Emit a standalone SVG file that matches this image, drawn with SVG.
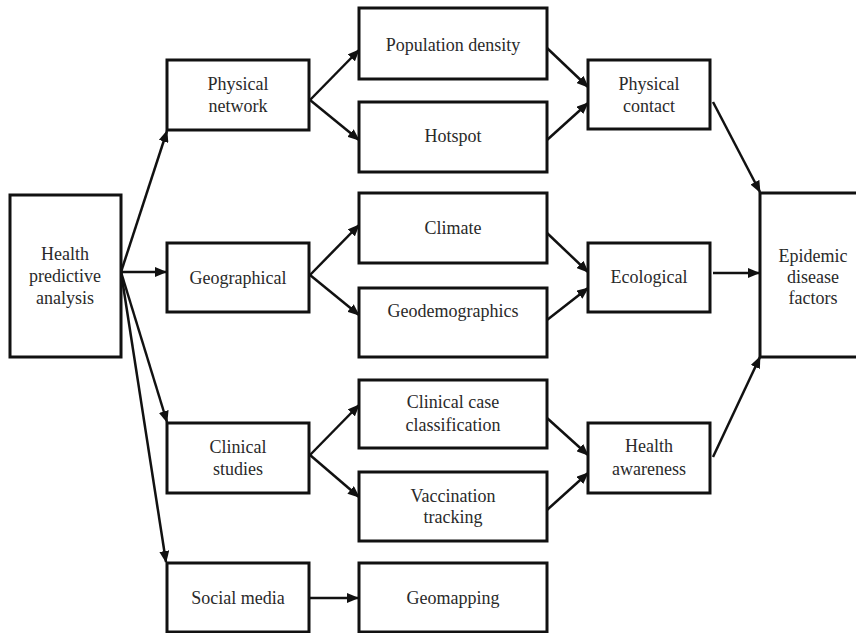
<svg xmlns="http://www.w3.org/2000/svg" width="856" height="633" viewBox="0 0 856 633">
<style>
.box{fill:#fff;stroke:#111;stroke-width:3}
.t{font-family:"Liberation Serif","Times New Roman",serif;font-size:18px;fill:#2a2a2a;text-anchor:middle}
.c{stroke:#111;stroke-width:2.5;fill:none;marker-end:url(#ah)}
</style>
<defs>
<marker id="ah" markerUnits="userSpaceOnUse" markerWidth="12" markerHeight="10" refX="11" refY="5" orient="auto">
<path d="M0,0 L12,5 L0,10 Z" fill="#111"/>
</marker>
</defs>
<rect width="856" height="633" fill="#fff"/>
<g id="connectors">
<line class="c" x1="121" y1="272" x2="167" y2="131"/>
<line class="c" x1="121" y1="272" x2="166" y2="272"/>
<line class="c" x1="121" y1="272" x2="167" y2="422"/>
<line class="c" x1="121" y1="272" x2="166" y2="562"/>
<line class="c" x1="310" y1="100" x2="359" y2="50"/>
<line class="c" x1="310" y1="100" x2="359" y2="140"/>
<line class="c" x1="310" y1="275" x2="359" y2="225"/>
<line class="c" x1="310" y1="275" x2="359" y2="315"/>
<line class="c" x1="310" y1="455" x2="359" y2="405"/>
<line class="c" x1="310" y1="455" x2="359" y2="497"/>
<line class="c" x1="310" y1="598" x2="358" y2="598"/>
<line class="c" x1="547" y1="48" x2="588" y2="87"/>
<line class="c" x1="547" y1="140" x2="588" y2="103"/>
<line class="c" x1="547" y1="233" x2="588" y2="272"/>
<line class="c" x1="547" y1="320" x2="588" y2="288"/>
<line class="c" x1="547" y1="418" x2="588" y2="455"/>
<line class="c" x1="547" y1="510" x2="588" y2="473"/>
<line class="c" x1="713" y1="102" x2="760" y2="192"/>
<line class="c" x1="713" y1="273" x2="759" y2="273"/>
<line class="c" x1="713" y1="457" x2="760" y2="357"/>
</g>
<g id="hpa"><rect class="box" x="10" y="195" width="111" height="162"/>
<text class="t" x="65" y="260">Health</text><text class="t" x="65" y="282">predictive</text><text class="t" x="65" y="304">analysis</text></g>
<g id="physical-network"><rect class="box" x="167" y="60" width="142" height="70"/>
<text class="t" x="238" y="90">Physical</text><text class="t" x="238" y="112">network</text></g>
<g id="geographical"><rect class="box" x="167" y="243" width="142" height="69"/>
<text class="t" x="238" y="284">Geographical</text></g>
<g id="clinical-studies"><rect class="box" x="167" y="423" width="142" height="70"/>
<text class="t" x="238" y="453">Clinical</text><text class="t" x="238" y="475">studies</text></g>
<g id="social-media"><rect class="box" x="167" y="563" width="142" height="69"/>
<text class="t" x="238" y="604">Social media</text></g>
<g id="population-density"><rect class="box" x="359" y="8" width="188" height="71"/>
<text class="t" x="453" y="51">Population density</text></g>
<g id="hotspot"><rect class="box" x="359" y="102" width="188" height="70"/>
<text class="t" x="453" y="142">Hotspot</text></g>
<g id="climate"><rect class="box" x="359" y="193" width="188" height="70"/>
<text class="t" x="453" y="234">Climate</text></g>
<g id="geodemographics"><rect class="box" x="359" y="288" width="188" height="69"/>
<text class="t" x="453" y="317">Geodemographics</text></g>
<g id="clinical-case"><rect class="box" x="359" y="380" width="188" height="68"/>
<text class="t" x="453" y="408">Clinical case</text><text class="t" x="453" y="431">classification</text></g>
<g id="vaccination"><rect class="box" x="359" y="472" width="188" height="69"/>
<text class="t" x="453" y="502">Vaccination</text><text class="t" x="453" y="523">tracking</text></g>
<g id="geomapping"><rect class="box" x="359" y="563" width="188" height="69"/>
<text class="t" x="453" y="604">Geomapping</text></g>
<g id="physical-contact"><rect class="box" x="588" y="60" width="122" height="69"/>
<text class="t" x="649" y="90">Physical</text><text class="t" x="649" y="112">contact</text></g>
<g id="ecological"><rect class="box" x="588" y="243" width="122" height="69"/>
<text class="t" x="649" y="283">Ecological</text></g>
<g id="health-awareness"><rect class="box" x="588" y="423" width="122" height="70"/>
<text class="t" x="649" y="452">Health</text><text class="t" x="649" y="475">awareness</text></g>
<g id="epidemic"><rect class="box" x="760" y="193" width="110" height="164"/>
<text class="t" x="813" y="262">Epidemic</text><text class="t" x="813" y="283">disease</text><text class="t" x="813" y="304">factors</text></g>
</svg>
